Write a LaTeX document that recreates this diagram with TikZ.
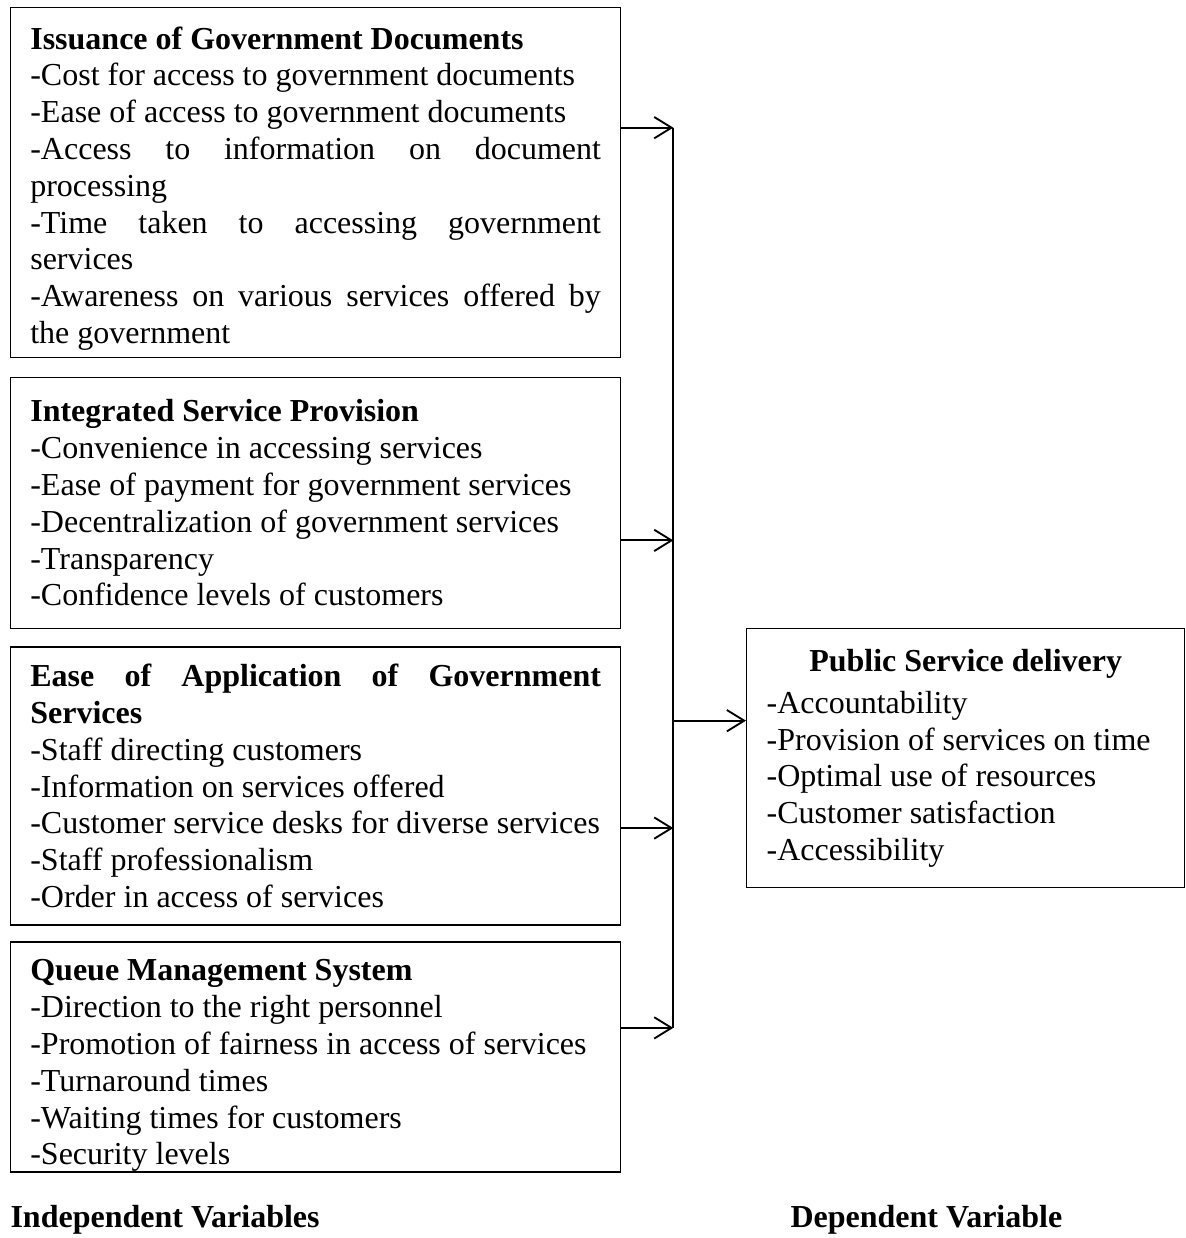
\documentclass[tikz,border=0pt]{standalone}
\usepackage{fontspec}
\setmainfont{Liberation Serif}
\usetikzlibrary{positioning, arrows.meta}
\tolerance=10000
\hyphenpenalty=10000
\exhyphenpenalty=10000

\begin{document}
\begin{tikzpicture}[node distance=7pt,
  box/.style={draw, line width=0.5pt, minimum width=228.75pt, text width=214pt,
    inner xsep=7.375pt, inner ysep=1pt, align=justify,
    font=\fontsize{12}{13.8}\selectfont},
  res/.style={box, minimum width=164.25pt, text width=149.25pt,
    minimum height=97.125pt, align=flush left},
  arr/.style={line width=0.7pt, -{Straight Barb[length=6.5pt, width=8pt]}},
  bar/.style={line width=0.7pt},
  lbl/.style={inner sep=0pt, font=\fontsize{12}{13.8}\selectfont\bfseries}]
  \useasboundingbox (0,0) rectangle (444.75pt,-464.25pt);

  \node[box, minimum height=131.25pt, anchor=north west] (issue) at (3.75pt,-2.625pt)
    {\rule{0pt}{12.75pt}\textbf{Issuance of Government Documents}\\
     -Cost for access to government documents\\
     -Ease of access to government documents\\
     -Access to information on document processing\\
     -Time taken to accessing government services\\
     -Awareness on various services offered by the government};
  \node[box, minimum height=94.125pt] (integ) [below right=6.9pt and 0pt of issue.south west]
    {\textbf{Integrated Service Provision}\\
     -Convenience in accessing services\\
     -Ease of payment for government services\\
     -Decentralization of government services\\
     -Transparency\\
     -Confidence levels of customers};
  \node[box, minimum height=104.25pt] (ease) [below right=6.5pt and 0pt of integ.south west]
    {\textbf{Ease of Application of Government Services}\\
     -Staff directing customers\\
     -Information on services offered\\
     -Customer service desks for diverse services\\
     -Staff professionalism\\
     -Order in access of services};
  \node[box, minimum height=86.25pt, inner ysep=0pt] (queue) [below right=5.8pt and 0pt of ease.south west]
    {\rule{0pt}{14.6pt}\textbf{Queue Management System}\\
     -Direction to the right personnel\\
     -Promotion of fairness in access of services\\
     -Turnaround times\\
     -Waiting times for customers\\
     -Security levels};

  \node[res, anchor=north west] (pub) at (279.75pt,-235.5pt)
    {{\centering\textbf{Public Service delivery}\par}\vspace{2pt}
     -Accountability\\
     -Provision of services on time\\
     -Optimal use of resources\\
     -Customer satisfaction\\
     -Accessibility};

  \node[lbl, anchor=base west] (indep) at ([shift={(0pt,-20.6pt)}]queue.south west) {Independent Variables};
  \node[lbl, anchor=base west] (dep) at ([xshift=16.5pt]pub.west |- indep.base) {Dependent Variable};

  % arrows into the bar
  \draw[arr] ([yshift=20.625pt]issue.east) -- ++(19.5pt,0) coordinate (t1);
  \draw[arr] ([yshift=-14.06pt]integ.east) -- ++(19.5pt,0) coordinate (t2);
  \draw[arr] ([yshift=-15.75pt]ease.east) -- ++(19.5pt,0) coordinate (t3);
  \draw[arr] ([yshift=10.875pt]queue.east) -- ++(19.5pt,0) coordinate (t4);
  \draw[bar] (t1) -- (t4);
  \coordinate (pin) at ([yshift=14.06pt]pub.west);
  \draw[arr] (pin -| t1) -- (pin);
\end{tikzpicture}
\end{document}
